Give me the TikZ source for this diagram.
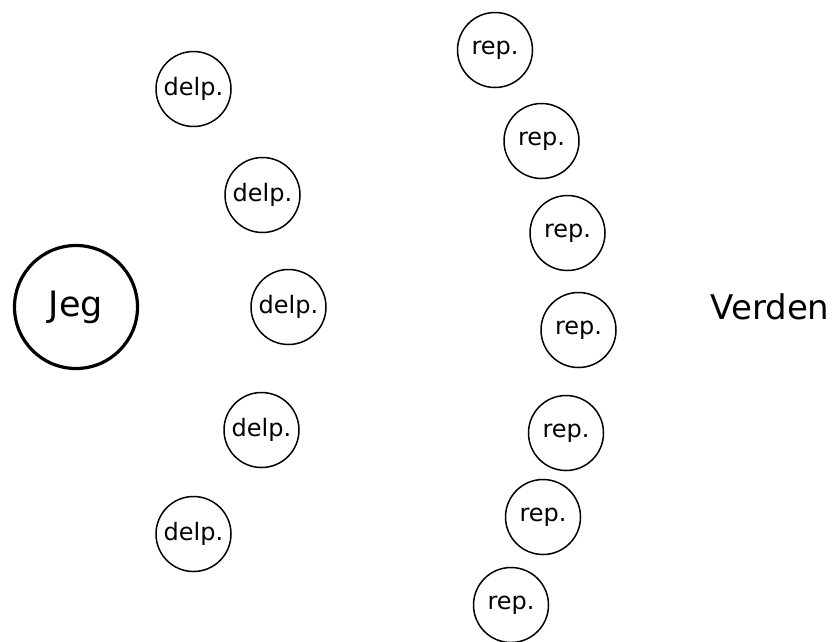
\documentclass[tikz,border=0pt]{standalone}
\usepackage{fontspec}
\setmainfont{DejaVu Sans}
\begin{document}
\begin{tikzpicture}[x=1pt,y=-1pt,
  small/.style={circle,draw,line width=1.5pt,minimum size=75pt,inner sep=0pt,font=\fontsize{24}{28}\selectfont},
  big/.style={circle,draw,line width=3.2pt,minimum size=123pt,inner sep=0pt,font=\fontsize{35}{40}\selectfont},
  label/.style={inner sep=0pt,font=\fontsize{34}{40}\selectfont}]
\useasboundingbox (0,0) rectangle (834,641);
\node[big] (jeg) at (76,307) {Jeg};
\node[small] (d1) at (193.5,89) {delp.};
\node[small] (d2) at (262.5,195) {delp.};
\node[small] (d3) at (288.5,307) {delp.};
\node[small] (d4) at (261.5,430) {delp.};
\node[small] (d5) at (193.5,534) {delp.};
\node[small] (r1) at (495,50) {rep.};
\node[small] (r2) at (541.5,141) {rep.};
\node[small] (r3) at (567.5,233) {rep.};
\node[small] (r4) at (578.5,330) {rep.};
\node[small] (r5) at (566,433) {rep.};
\node[small] (r6) at (543,517) {rep.};
\node[small] (r7) at (511,605) {rep.};
\node[label] (verden) at (770,307) {Verden};
\end{tikzpicture}
\end{document}
